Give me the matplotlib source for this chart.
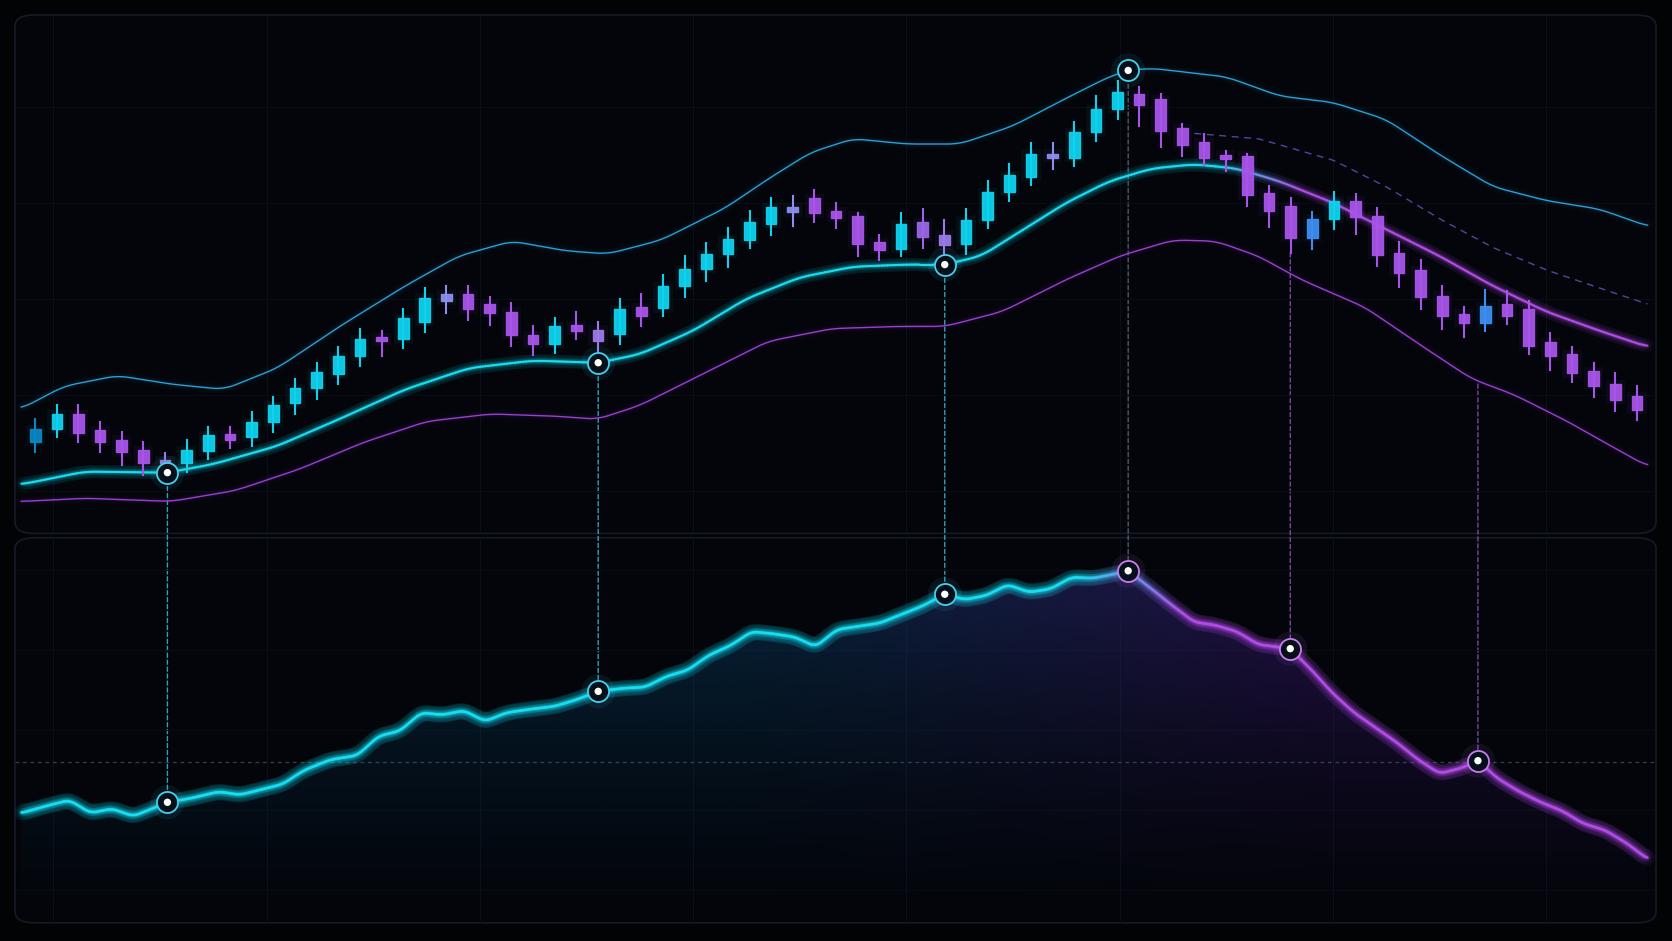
import matplotlib
matplotlib.use('Agg')
import numpy as np
import matplotlib.pyplot as plt
from matplotlib.collections import LineCollection
from matplotlib.colors import to_rgb
from matplotlib.patches import FancyBboxPatch, ConnectionPatch

# candles: open, close, high, low (price units)
opens = [86, 98, 112, 97, 88, 78, 68, 66, 77, 93, 90, 104, 122, 136, 149, 166, 184, 182, 198, 224, 224, 215,
         208, 186, 178, 195, 191, 187, 212, 211, 232, 248, 262, 275, 290, 306, 314, 302, 298, 273, 267, 292, 280, 271,
         294, 320, 334, 356, 352, 376, 398, 412, 407, 380, 367, 355, 354, 319, 307, 277, 295, 312, 298, 263, 247, 223,
         206, 197, 215, 210, 179, 168, 152, 140, 129]
closes = [98, 112, 94, 86, 76, 66, 66, 78, 92, 88, 104, 120, 136, 151, 166, 182, 180, 202, 221, 218, 210, 207,
          186, 178, 194, 190, 180, 210, 204, 232, 248, 262, 276, 292, 306, 301, 300, 296, 271, 266, 290, 278, 270, 294,
          320, 336, 356, 352, 376, 398, 414, 402, 377, 364, 352, 351, 317, 302, 277, 295, 312, 297, 261, 244, 222, 204,
          197, 213, 204, 176, 166, 150, 138, 125, 116]
highs = [107, 120, 120, 104, 95, 86, 75, 88, 100, 100, 114, 128, 145, 160, 175, 192, 190, 210, 230, 232, 232, 222,
         216, 194, 202, 208, 198, 220, 224, 242, 260, 272, 286, 302, 314, 316, 322, 310, 300, 280, 300, 304, 294, 304,
         330, 346, 366, 366, 386, 410, 424, 418, 412, 384, 374, 358, 356, 326, 314, 301, 320, 318, 305, 273, 256, 232,
         212, 228, 227, 218, 188, 175, 160, 150, 138]
lows = [76, 90, 86, 76, 64, 55, 56, 58, 70, 80, 82, 95, 112, 126, 140, 157, 166, 174, 189, 207, 200, 195, 176,
        167, 169, 182, 162, 178, 194, 204, 222, 237, 250, 268, 280, 288, 292, 286, 260, 256, 260, 268, 260, 262, 286,
        312, 327, 342, 344, 368, 388, 382, 362, 354, 345, 340, 307, 287, 263, 267, 285, 281, 251, 231, 210, 192, 184,
        190, 196, 168, 153, 142, 128, 115, 106]
candle_col = ['#0a86c4', '#0ed2ee'] + ['#a755e8'] * 4 + ['#8e7ee0', '#0ed2ee', '#0ed2ee', '#a755e8'] \
    + ['#0ed2ee'] * 6 + ['#a755e8', '#0ed2ee', '#0ed2ee', '#8c8ef0', '#a755e8', '#a755e8', '#a755e8', '#a755e8',
                         '#0ed2ee', '#a755e8', '#9a7ae8', '#0ed2ee', '#a755e8'] + ['#0ed2ee'] * 6 \
    + ['#8c8ef0', '#a755e8', '#a755e8', '#a755e8', '#a755e8', '#0ed2ee', '#9a66e8', '#9a7ae8', '#0ed2ee', '#0ed2ee',
       '#0ed2ee', '#0ed2ee', '#8c8ef0', '#0ed2ee', '#0ed2ee', '#0ed2ee'] \
    + ['#a755e8'] * 8 + ['#3d8ef0', '#0ed2ee', '#a755e8', '#a755e8', '#a755e8', '#a755e8', '#a755e8', '#a755e8',
                         '#3d8ef0'] + ['#a755e8'] * 7

# bands (x in chart px units, price units)
up_x = [20, 60, 110, 160, 210, 260, 320, 380, 430, 480, 530, 570, 620, 680, 720, 760, 800, 850, 900, 950, 1000,
        1040, 1058, 1080, 1150, 1200, 1250, 1300, 1350, 1400, 1450, 1500, 1545]
up_y = [117, 138, 148, 140, 135, 155, 195, 232, 260, 274, 265, 262, 275, 305, 332, 357, 370, 365, 365, 382, 408,
        428, 434, 436, 428, 410, 404, 388, 355, 325, 312, 304, 288]
mid_x = [20, 80, 157, 200, 260, 320, 380, 440, 500, 561, 600, 650, 700, 750, 800, 850, 886, 920, 960, 1000, 1040,
         1080, 1120, 1160, 1200, 1250, 1300, 1350, 1400, 1450, 1500, 1545]
mid_y = [46, 58, 57, 65, 82, 108, 135, 155, 162, 160, 168, 190, 220, 240, 250, 252, 252, 260, 285, 310, 330, 342,
         346, 342, 330, 310, 285, 260, 232, 208, 190, 175]
low_x = [20, 80, 160, 220, 280, 340, 400, 460, 520, 560, 600, 660, 720, 780, 840, 886, 940, 1000, 1050, 1100, 1140,
         1180, 1220, 1280, 1330, 1380, 1420, 1470, 1500, 1545]
low_y = [30, 33, 30, 40, 60, 85, 105, 112, 110, 107, 120, 150, 180, 192, 194, 194, 208, 238, 260, 275, 274, 260,
         238, 212, 178, 145, 130, 105, 88, 63]
dash_x = [1120, 1180, 1250, 1300, 1350, 1400, 1450, 1500, 1545]
dash_y = [375, 370, 350, 325, 295, 268, 247, 230, 215]

# oscillator
osc_x = [20, 45, 65, 85, 105, 125, 145, 157, 180, 205, 225, 245, 265, 285, 310, 335, 355, 375, 395, 415, 435, 455,
         475, 495, 520, 540, 561, 585, 605, 625, 645, 665, 685, 705, 725, 745, 765, 785, 805, 825, 845, 865, 886,
         905, 925, 945, 965, 985, 1005, 1025, 1045, 1058, 1080, 1100, 1120, 1140, 1160, 1180, 1210, 1230, 1250,
         1270, 1290, 1310, 1330, 1350, 1370, 1386, 1405, 1425, 1445, 1465, 1485, 1505, 1525, 1545]
osc_y = [-48, -41, -36, -48, -44, -51, -43, -38, -34, -28, -31, -26, -21, -8, 2, 6, 24, 29, 46, 44, 48, 38, 46,
         49, 52, 58, 66, 69, 70, 80, 86, 100, 109, 122, 120, 117, 108, 124, 127, 130, 138, 146, 157, 152, 156, 166,
         159, 162, 173, 172, 176, 179, 162, 146, 131, 128, 122, 110, 106, 86, 64, 46, 32, 18, 2, -11, -6, 1, -16,
         -28, -38, -46, -58, -64, -76, -91]

# highlighted points
marks_top = [(157, 57), (561, 160), (886, 252), (1058, 434)]
marks_bot = [(157, -38), (561, 66), (886, 157), (1058, 179), (1210, 106), (1386, 1)]
drops = [(157, 57, -38), (561, 160, 66), (886, 252, 157), (1058, 434, 179), (1210, 263, 106), (1386, 140, 1)]

BG = '#020305'
CYAN = '#19dcf0'
PURP = '#b04ce6'

fig = plt.figure(figsize=(16.72, 9.41), dpi=100, facecolor=BG)
W, H = 1568.0, 882.0


def fr(x0, y0, x1, y1):
    return [x0 / W, 1 - y1 / H, (x1 - x0) / W, (y1 - y0) / H]


for (y0, y1) in [(14, 500), (504, 865)]:
    fig.patches.append(FancyBboxPatch((14 / W, 1 - y1 / H), 1539 / W, (y1 - y0) / H,
                                      boxstyle='round,pad=0,rounding_size=0.012', transform=fig.transFigure,
                                      facecolor='#03050a', edgecolor='#151b25', linewidth=1.2, zorder=-10))

ax = fig.add_axes(fr(14, 14, 1553, 500))
bx = fig.add_axes(fr(14, 504, 1553, 865))
for a in (ax, bx):
    a.set_facecolor('none')
    for s in a.spines.values():
        s.set_visible(False)
    a.set_xticks([])
    a.set_yticks([])
    for gx in np.arange(50, 1553, 200):
        a.axvline(gx, color='#0a1018', lw=0.8, zorder=0)
for gy in np.arange(40, 486, 90):
    ax.axhline(gy, color='#080d14', lw=0.8, zorder=0)
for gy in np.arange(-120, 210, 75):
    bx.axhline(gy, color='#080d14', lw=0.8, zorder=0)


def smooth(xs, ys, n=600, w=15):
    xx = np.linspace(xs[0], xs[-1], n)
    yy = np.interp(xx, xs, ys)
    k = np.ones(w) / w
    pad = np.pad(yy, w // 2, mode='edge')
    return xx, np.convolve(pad, k, mode='valid')


def glow(a, x, y, col, lw, z=3, **kw):
    for w, al in [(lw * 7, 0.03), (lw * 3.5, 0.06)]:
        a.plot(x, y, color=col, lw=w, alpha=al, solid_capstyle='round', zorder=z, **kw)
    a.plot(x, y, color=col, lw=lw, zorder=z + 0.1, **kw)


def grad_line(a, x, y, lw, split0, split1, z=3):
    pts = np.column_stack([x, y]).reshape(-1, 1, 2)
    segs = np.concatenate([pts[:-1], pts[1:]], axis=1)
    t = np.clip((x[:-1] - split0) / (split1 - split0), 0, 1)
    c0, c1 = np.array(to_rgb(CYAN)), np.array(to_rgb(PURP))
    cols = c0[None] * (1 - t[:, None]) + c1[None] * t[:, None]
    for w, al in [(lw * 7, 0.035), (lw * 3.5, 0.07), (lw * 1.8, 0.14), (lw, 1.0)]:
        rgba = np.column_stack([cols, np.full(len(cols), al)])
        a.add_collection(LineCollection(segs, colors=rgba, linewidths=w, capstyle='round', zorder=z))


# bands
xu, yu = smooth(up_x, up_y, w=9)
glow(ax, xu, yu, '#2aa0d4', 1.0)
xm, ym = smooth(mid_x, mid_y, w=9)
grad_line(ax, xm, ym, 1.4, 1140, 1220)
xl, yl = smooth(low_x, low_y, w=9)
glow(ax, xl, yl, '#9a3fd0', 1.0)
xd, yd = smooth(dash_x, dash_y, w=9)
ax.plot(xd, yd, color='#4e47a0', lw=1.0, ls=(0, (5, 4)), zorder=3)

# candles
cx = 33 + 20.3 * np.arange(len(opens))
for i in range(len(opens)):
    o, c, h, l = opens[i], closes[i], highs[i], lows[i]
    col = candle_col[i]
    ax.plot([cx[i], cx[i]], [l, h], color=col, lw=1.5, zorder=5)
    lo, hi = min(o, c), max(o, c)
    ax.bar(cx[i], max(hi - lo, 3), bottom=lo, width=10, color=col, edgecolor=col, alpha=0.95, zorder=6)
    ax.bar(cx[i], max(hi - lo, 3) + 8, bottom=lo - 4, width=18, color=col, alpha=0.05, zorder=4, linewidth=0)

# oscillator
ox = np.linspace(osc_x[0], osc_x[-1], 1200)
k = np.ones(9) / 9
oy = np.interp(ox, osc_x, osc_y)
oy = np.convolve(np.pad(oy, 4, mode='edge'), k, mode='valid')
bx.axhline(0, color='#34424f', lw=0.9, ls=(0, (3, 3)), zorder=2)
# area fill: horizontal colour shift, fading downward
gx = np.linspace(0, 1, 300)
gy = np.linspace(0, 1, 200)[:, None]
c0, c1 = np.array(to_rgb('#0a3a5c')), np.array(to_rgb('#3a1870'))
hcol = c0[None] * (1 - np.clip((gx - 0.45) / 0.35, 0, 1))[:, None] + c1[None] * np.clip((gx - 0.45) / 0.35, 0, 1)[:, None]
alpha = (gy ** 1.3) * 0.6
rgba = np.concatenate([np.broadcast_to(hcol[None], (200, 300, 3)), np.broadcast_to(alpha[..., None], (200, 300, 1))], axis=2)
img = bx.imshow(rgba, aspect='auto', extent=[20, 1545, -151, 180], origin='lower', zorder=1)
poly = bx.fill_between(ox, oy, -151, color='none')
img.set_clip_path(poly.get_paths()[0], transform=bx.transData)
grad_line(bx, ox, oy, 1.7, 1010, 1110)

for a in (ax, bx):
    a.set_xlim(14, 1553)
ax.set_ylim(0, 486)
bx.set_ylim(-151, 210)

# dashed drop lines
for (x, p, o) in drops:
    col = '#3ec6e6' if x < 1100 else '#9a55d0'
    if x == 1058:
        col = '#5f6f86'
    con = ConnectionPatch((x, p), (x, o), 'data', 'data', axesA=ax, axesB=bx, color=col, lw=1.0,
                          ls=(0, (3, 2)), alpha=0.8, zorder=-1)
    fig.add_artist(con)


def marker(a, x, y, col):
    a.scatter([x], [y], s=600, facecolor=col, alpha=0.08, edgecolor='none', zorder=8)
    a.scatter([x], [y], s=230, facecolor='#061018', edgecolor=col, linewidth=1.3, zorder=9)
    a.scatter([x], [y], s=28, facecolor='white', edgecolor='none', zorder=10)


for (x, y) in marks_top:
    marker(ax, x, y, '#45d0ee')
for (x, y) in marks_bot:
    marker(bx, x, y, '#45d0ee' if x < 1000 else '#c77cf0')

fig.savefig('out.png', dpi=100, facecolor=BG)
